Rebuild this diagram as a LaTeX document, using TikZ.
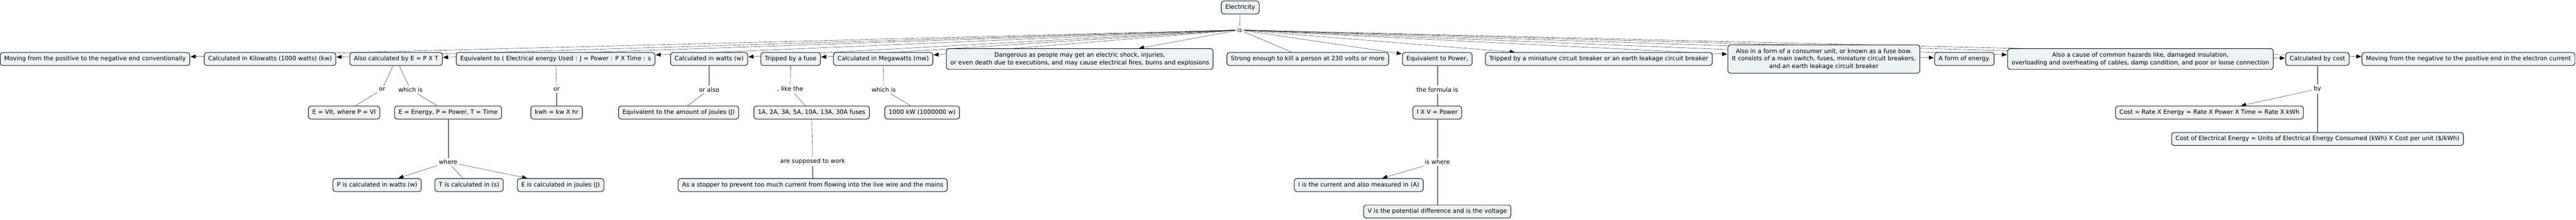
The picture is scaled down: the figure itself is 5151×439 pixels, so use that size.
\documentclass[tikz,border=0pt]{standalone}
\usepackage{fontspec}
\setmainfont{DejaVu Sans}
\usetikzlibrary{%
  positioning
 ,arrows.meta
 ,backgrounds
}
\definecolor{cmapfill}{RGB}{237,242,245}
\tikzstyle{cmap}=[x=1pt,y=-1pt,font=\fontsize{12}{15}\selectfont,>={Triangle[length=10pt,width=8pt]},line width=1pt]
\tikzstyle{box}=[draw=black,fill=cmapfill,rounded corners=5pt,inner xsep=8pt]
\tikzstyle{concept}=[box,text height=9pt,text depth=3pt,inner ysep=7pt]
\tikzstyle{bigconcept}=[box,align=center,inner ysep=7.5pt]
\tikzstyle{link}=[inner sep=3pt]
\tikzstyle{arr}=[->,shorten >=1pt]

\begin{document}
\begin{tikzpicture}[cmap]
  \useasboundingbox (0,0) rectangle (5151,439);
  \node[concept] (elec) at (2480,15) {Electricity};
  \node[link]    (is)   at (2479,60) {is};
% top row
  \node[concept] (movpos)   at (190,118)  {Moving from the positive to the negative end conventionally};
  \node[concept] (kilo)     at (540,118)  {Calculated in Kilowatts (1000 watts) (kw)};
  \node[concept] (alsocalc) at (792,118)  {Also calculated by E = P X T};
  \node[concept] (equivj)   at (1111,118) {Equivalent to ( Electrical energy Used : J = Power : P X Time : s};
  \node[concept] (watts)    at (1418,118) {Calculated in watts (w)};
  \node[concept] (fuse)     at (1581,118) {Tripped by a fuse};
  \node[concept] (mega)     at (1766,118) {Calculated in Megawatts (mw)};
  \node[bigconcept] (danger) at (2159,118) {Dangerous as people may get an electric shock, injuries,\\or even death due to executions, and may cause electrical fires, burns and explosions};
  \node[concept] (strong)   at (2615,118) {Strong enough to kill a person at 230 volts or more};
  \node[concept] (eqpower)  at (2874,118) {Equivalent to Power,};
  \node[concept] (mcb)      at (3197,118) {Tripped by a miniature circuit breaker or an earth leakage circuit breaker};
  \node[bigconcept] (consumer) at (3647,118) {Also in a form of a consumer unit, or known as a fuse bow.\\It consists of a main switch, fuses, miniature circuit breakers,\\and an earth leakage circuit breaker};
  \node[concept] (form)     at (3928,118) {A form of energy.};
  \node[bigconcept] (hazard) at (4280,118) {Also a cause of common hazards like, damaged insulation,\\overloading and overheating of cables, damp condition, and poor or loose connection};
  \node[concept] (cost)     at (4634,118) {Calculated by cost};
  \node[concept] (movneg)   at (4936,118) {Moving from the negative to the positive end in the electron current};
% linking words
  \node[link] (or1)      at (764,179)  {or};
  \node[link] (which1)   at (821,179)  {which is};
  \node[link] (or2)      at (1113,179) {or};
  \node[link] (oralso)   at (1418,179) {or also};
  \node[link] (like)     at (1580,178) {, like the};
  \node[link] (which2)   at (1767,179) {which is};
  \node[link] (formula)  at (2874,179) {the formula is};
  \node[link] (by)       at (4634,178) {by};
% second row
  \node[concept] (vit)      at (688,225)  {E = VIt, where P = VI};
  \node[concept] (epdef)    at (896,225)  {E = Energy, P = Power, T = Time};
  \node[concept] (kwh)      at (1113,225) {kwh = kw X hr};
  \node[concept] (eqamount) at (1357,225) {Equivalent to the amount of joules (J)};
  \node[concept] (fuses)    at (1623,225) {1A, 2A, 3A, 5A, 10A, 13A, 30A fuses};
  \node[concept] (kw1000)   at (1844,225) {1000 kW (1000000 w)};
  \node[concept] (ixv)      at (2874,225) {I X V = Power};
  \node[concept] (rate)     at (4418,225) {Cost = Rate X Energy = Rate X Power X Time = Rate X kWh};
  \node[concept] (units)    at (4634,278) {Cost of Electrical Energy = Units of Electrical Energy Consumed (kWh) X Cost per unit (\$/kWh)};
% third row
  \node[link] (where)    at (896,324)  {where};
  \node[link] (supposed) at (1625,323) {are supposed to work};
  \node[link] (iswhere)  at (2874,324) {is where};
  \node[concept] (pw)      at (754,370)  {P is calculated in watts (w)};
  \node[concept] (ts)      at (938,370)  {T is calculated in (s)};
  \node[concept] (ej)      at (1121,370) {E is calculated in joules (J)};
  \node[concept] (stopper) at (1625,370) {As a stopper to prevent too much current from flowing into the live wire and the mains};
  \node[concept] (icur)    at (2717,370) {I is the current and also measured in (A)};
  \node[concept] (vpd)     at (2874,423) {V is the potential difference and is the voltage};
% 
  \begin{scope}[on background layer]
  \path (elec) edge (is)
        (is) edge (strong);
  \path[arr]
  (is) edge (movpos)
  (is) edge (kilo)
  (is) edge (alsocalc)
  (is) edge (equivj)
  (is) edge (watts)
  (is) edge (fuse)
  (is) edge (mega)
  (is) edge (danger)
  (is) edge (eqpower)
  (is) edge (mcb)
  (is) edge (consumer)
  (is) edge (form)
  (is) edge (hazard)
  (is) edge (cost)
  (is) edge (movneg);
  \path
  (alsocalc) edge (or1)    (or1) edge (vit)
  (alsocalc) edge (which1) (which1) edge (epdef)
  (equivj) edge (or2)      (or2) edge (kwh)
  (epdef) edge (where)     (where) edge (ts)
  (watts) edge (oralso)    (oralso) edge (eqamount)
  (fuse) edge (like)       (like) edge (fuses)
  (fuses) edge (supposed)  (supposed) edge (stopper)
  (mega) edge (which2)     (which2) edge (kw1000)
  (eqpower) edge (formula) (formula) edge (ixv)
  (ixv) edge (iswhere)     (iswhere) edge (vpd)
  (cost) edge (by)         (by) edge (units);
  \path[arr]
  (where) edge (pw)
  (where) edge (ej)
  (iswhere) edge (icur)
  (by) edge (rate);
  \end{scope}
\end{tikzpicture}
\end{document}
